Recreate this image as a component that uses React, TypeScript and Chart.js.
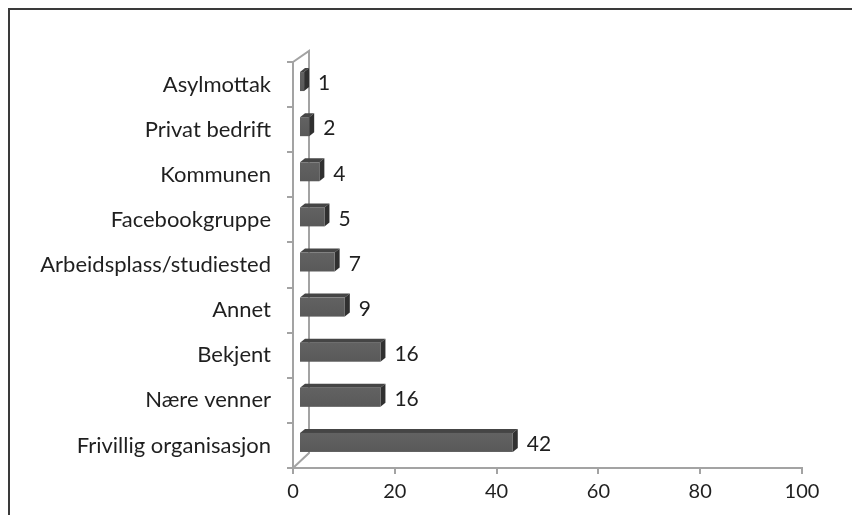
import React, { useEffect, useRef } from 'react';
import { Chart, registerables } from 'chart.js';

Chart.register(...registerables);

const categories = [
  'Asylmottak',
  'Privat bedrift',
  'Kommunen',
  'Facebookgruppe',
  'Arbeidsplass/studiested',
  'Annet',
  'Bekjent',
  'Nære venner',
  'Frivillig organisasjon',
];
const values = [1, 2, 4, 5, 7, 9, 16, 16, 42];
const xMin = 0;
const xMax = 100;
const xStep = 20;

const FONT = 'Lato, "Open Sans", sans-serif';
const TEXT = '#1f1f1f';
const AXIS = '#a3a3a3';

// 3D geometry (pixels)
const FACE_DX = 6; // front face offset from axis plane
const FACE_DY = -3;
const DEPTH_DX = 5; // bar depth
const DEPTH_DY = 4;
const WALL_DX = 16;
const WALL_TOP_DY = 11;
const WALL_BOT_DY = 15;

const framePlugin = {
  id: 'frame',
  beforeDraw(chart: any) {
    const ctx = chart.ctx;
    ctx.save();
    ctx.fillStyle = '#ffffff';
    ctx.fillRect(0, 0, chart.width, chart.height);
    ctx.fillStyle = '#3a3a3a';
    ctx.fillRect(8, 8, 2, chart.height - 8);
    ctx.fillRect(8, 8, chart.width - 8, 2);
    ctx.restore();
  },
};

const wallPlugin = {
  id: 'wall',
  beforeDatasetsDraw(chart: any) {
    const ctx = chart.ctx;
    const { left, top, bottom } = chart.chartArea;
    ctx.save();
    ctx.strokeStyle = AXIS;
    ctx.lineWidth = 2;
    ctx.beginPath();
    ctx.moveTo(left, top);
    ctx.lineTo(left + WALL_DX, top - WALL_TOP_DY);
    ctx.lineTo(left + WALL_DX, bottom - WALL_BOT_DY);
    ctx.lineTo(left, bottom);
    ctx.stroke();
    ctx.restore();
  },
};

const bars3dPlugin = {
  id: 'bars3d',
  afterDatasetsDraw(chart: any) {
    const ctx = chart.ctx;
    const meta = chart.getDatasetMeta(0);
    ctx.save();
    meta.data.forEach((el: any, i: number) => {
      const { x, y, base, height } = el.getProps(['x', 'y', 'base', 'height'], true);
      const x0 = base + FACE_DX;
      const x1 = x + FACE_DX;
      const y0 = y - height / 2 + FACE_DY;
      const y1 = y + height / 2 + FACE_DY;
      // top face
      ctx.fillStyle = '#454545';
      ctx.beginPath();
      ctx.moveTo(x0, y0);
      ctx.lineTo(x0 + DEPTH_DX, y0 - DEPTH_DY);
      ctx.lineTo(x1 + DEPTH_DX, y0 - DEPTH_DY);
      ctx.lineTo(x1, y0);
      ctx.closePath();
      ctx.fill();
      // side face
      ctx.fillStyle = '#303030';
      ctx.beginPath();
      ctx.moveTo(x1, y0);
      ctx.lineTo(x1 + DEPTH_DX, y0 - DEPTH_DY);
      ctx.lineTo(x1 + DEPTH_DX, y1 - DEPTH_DY);
      ctx.lineTo(x1, y1);
      ctx.closePath();
      ctx.fill();
      // front face
      const g = ctx.createLinearGradient(0, y0, 0, y1);
      g.addColorStop(0, '#626262');
      g.addColorStop(1, '#595959');
      ctx.fillStyle = g;
      ctx.fillRect(x0, y0, x1 - x0, y1 - y0);
      // value label
      ctx.fillStyle = TEXT;
      ctx.font = '21px ' + FONT;
      ctx.textAlign = 'left';
      ctx.textBaseline = 'middle';
      ctx.fillText(String(values[i]), x + 20, y - 1);
    });
    ctx.restore();
  },
};

export default function App() {
  const ref = useRef<HTMLCanvasElement | null>(null);
  useEffect(() => {
    if (!ref.current) return;
    const chart = new Chart(ref.current, {
      type: 'bar',
      data: {
        labels: categories,
        datasets: [
          {
            data: values,
            backgroundColor: 'rgba(0,0,0,0)',
            borderWidth: 0,
            barThickness: 19,
          },
        ],
      },
      options: {
        indexAxis: 'y',
        animation: false,
        responsive: true,
        maintainAspectRatio: false,
        events: [],
        layout: { padding: { top: 62, right: 50, left: 0, bottom: 0 } },
        plugins: {
          legend: { display: false },
          tooltip: { enabled: false },
          title: { display: false },
        },
        scales: {
          x: {
            type: 'linear',
            min: xMin,
            max: xMax,
            afterFit(scale: any) {
              scale.height = 47;
            },
            ticks: {
              stepSize: xStep,
              color: TEXT,
              font: { family: FONT, size: 20 },
              padding: 6,
              maxRotation: 0,
            },
            grid: {
              display: true,
              drawOnChartArea: false,
              drawTicks: true,
              tickLength: 6,
              color: AXIS,
              lineWidth: 2,
            },
            border: { display: true, color: AXIS, width: 2 },
          },
          y: {
            type: 'category',
            afterFit(scale: any) {
              scale.width = 293;
            },
            ticks: {
              color: TEXT,
              font: { family: FONT, size: 22 },
              padding: 16,
              autoSkip: false,
            },
            grid: {
              display: true,
              drawOnChartArea: false,
              drawTicks: true,
              tickLength: 6,
              offset: true,
              color: AXIS,
              lineWidth: 2,
            },
            border: { display: true, color: AXIS, width: 2 },
          },
        },
      },
      plugins: [framePlugin, wallPlugin, bars3dPlugin],
    });
    return () => chart.destroy();
  }, []);
  return (
    <div style={{ position: 'fixed', left: 0, top: 0, width: 852, height: 515 }}>
      <canvas ref={ref} />
    </div>
  );
}
